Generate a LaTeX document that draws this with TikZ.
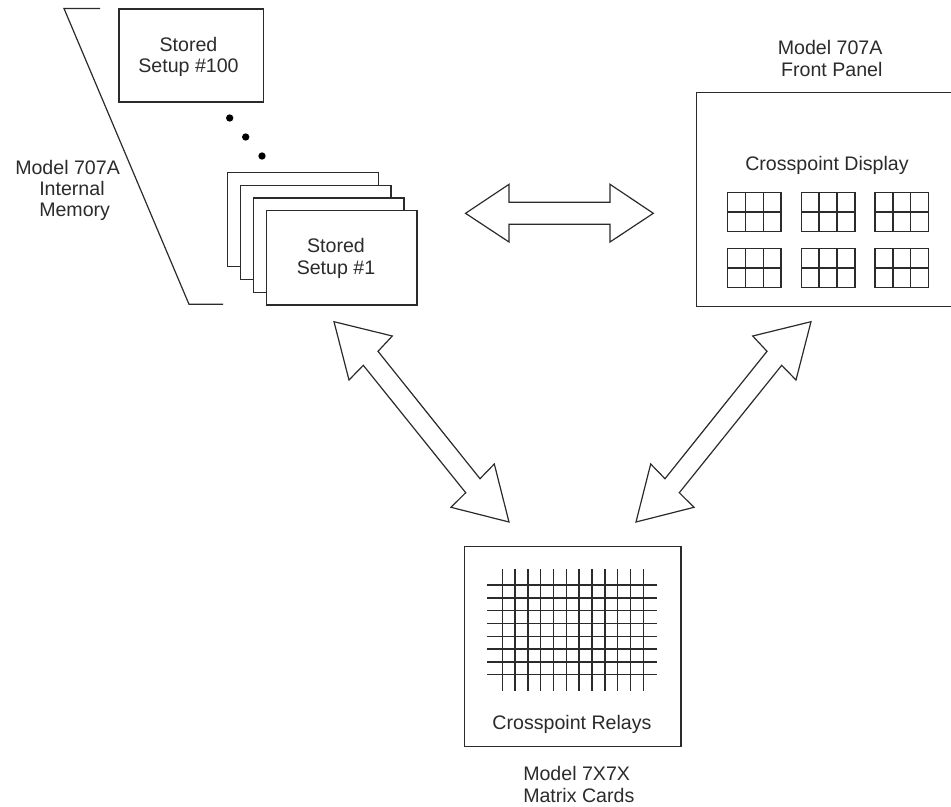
\documentclass[tikz,border=0pt]{standalone}
\usepackage{fontspec}
\setmainfont{Liberation Sans}
\definecolor{ink}{HTML}{2B2B2B}
\newcommand{\gridw}{53.5}
\newcommand{\gridh}{39}

\begin{document}
\begin{tikzpicture}[x=0.75pt, y=-0.75pt,
    box/.style={draw=ink, fill=white, line width=1pt, rectangle, anchor=north west, inner sep=0pt},
    label/.style={align=center, text=ink, font=\fontsize{14.7}{15.9}\selectfont, inner sep=0pt},
    blockarrow/.style={draw=ink, fill=white, line width=0.9pt, line join=miter},
    bracket/.style={draw=ink, line width=0.9pt},
    gridline/.style={draw=ink, line width=1.1pt},
    dot/.style={circle, fill=black, minimum size=5.5pt, inner sep=0pt}]
    \useasboundingbox (0,0) rectangle (951,807);

    % Internal memory
    \draw[bracket] (100,8.5) -- (64,8.5) -- (189,304.3) -- (223,304.3);
    \node[label, align=left, anchor=west] (memorylabel) at (15,190.5) {Model 707A\\\hspace*{18pt}Internal\\\hspace*{18pt}Memory};
    \node[box, minimum width=108.4pt, minimum height=69.8pt] (setup-100) at (118.3,8.3) {};
    \node[label] (setup-100-text) at (188.5,57) {Stored\\Setup \#100};
    \node[dot] (dot-1) at (229.7,118) {};
    \node[dot] (dot-2) at (245.7,137) {};
    \node[dot] (dot-3) at (262,156) {};

    % Stack of setups
    \foreach \i/\x/\y in {4/227/171.7, 3/239.8/184.5, 2/252.7/197.2, 1/265.7/210} {
        \node[box, minimum width=113pt, minimum height=70.8pt] (setup-\i) at (\x,\y) {};
    }
    \node[label] (setup-1-text) at (336,258.5) {Stored\\Setup \#1};

    % Front panel
    \node[label, align=right, anchor=east] (paneltitle) at (882.7,58.5) {Model 707A\\Front Panel};
    \node[box, minimum width=193pt, minimum height=160.5pt] (panel) at (695.7,91.7) {};
    \node[label] (displaylabel) at (827,165) {Crosspoint Display};
    \foreach \r/\y in {1/192.3, 2/248.3} {
        \foreach \c/\x in {1/727.7, 2/801.3, 3/875} {
            \draw[gridline] (\x,\y) rectangle (\x+\gridw,\y+\gridh);
            \draw[gridline] (\x,\y+\gridh/2) -- (\x+\gridw,\y+\gridh/2);
            \draw[gridline] (\x+\gridw/3,\y) -- (\x+\gridw/3,\y+\gridh);
            \draw[gridline] (\x+2*\gridw/3,\y) -- (\x+2*\gridw/3,\y+\gridh);
        }
    }

    % Matrix cards
    \node[box, minimum width=162.2pt, minimum height=150pt] (cards) at (464,545.7) {};
    \foreach \i in {0,...,11} {
        \draw[gridline] (502.3+\i*12.82,569.3) -- (502.3+\i*12.82,690.7);
    }
    \foreach \i in {0,...,7} {
        \draw[gridline] (487.3,585+\i*12.82) -- (656.7,585+\i*12.82);
    }
    \node[label] (relaylabel) at (572,724.5) {Crosspoint Relays};
    \node[label, align=left, anchor=west] (cardslabel) at (523,784.5) {Model 7X7X\\Matrix Cards};

    % Block arrows
    \draw[blockarrow] (465.5,213.3) -- (509,184.3) -- (509,202.3) -- (610,202.3) -- (610,184.3)
        -- (653.3,213.3) -- (610,242) -- (610,224.3) -- (509,224.3) -- (509,242) -- cycle;
    \draw[blockarrow] (334,321.7) -- (392.3,336) -- (378,351.3) -- (480,478.7) -- (494.3,464)
        -- (509,522) -- (451,507.3) -- (465.7,492.7) -- (363.3,365.3) -- (349,380) -- cycle;
    \draw[blockarrow] (811,321.7) -- (752.7,336) -- (767,351.3) -- (665,478.7) -- (650.7,464)
        -- (636,522) -- (694,507.3) -- (679.3,492.7) -- (781.7,365.3) -- (796,380) -- cycle;
\end{tikzpicture}
\end{document}
